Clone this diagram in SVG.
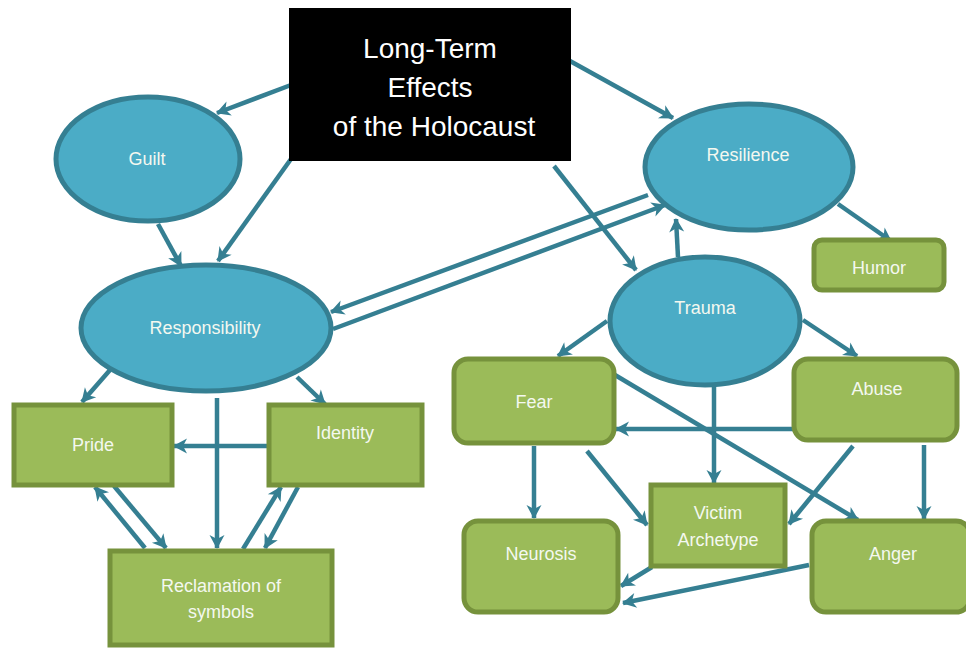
<svg xmlns="http://www.w3.org/2000/svg" width="966" height="648" viewBox="0 0 966 648">
  <style>
    .oval { fill: #4BACC6; stroke: #357F92; stroke-width: 5; }
    .box { fill: #9BBB59; stroke: #76923C; stroke-width: 5; }
    .lbl { font-family: "Liberation Sans", Arial, sans-serif; font-size: 18px; fill: #F4F8F0; text-anchor: middle; dominant-baseline: central; }
    .title { font-family: "Liberation Sans", Arial, sans-serif; font-size: 28px; fill: #FFFFFF; text-anchor: middle; dominant-baseline: central; }
    .edge { stroke: #357F92; stroke-width: 4.5; fill: none; marker-end: url(#head); }
  </style>
  <defs>
    <marker id="head" markerUnits="userSpaceOnUse" viewBox="-14 -8 16 16" refX="0" refY="0" markerWidth="16" markerHeight="16" orient="auto">
      <path d="M1,0 L-13,-7.5 L-9,0 L-13,7.5 Z" fill="#357F92"/>
    </marker>
  </defs>

  <!-- connectors -->
  <g id="connectors">
    <line class="edge" x1="291" y1="85" x2="217" y2="113"/>
    <line class="edge" x1="291" y1="159" x2="218" y2="261"/>
    <line class="edge" x1="158" y1="224" x2="181" y2="266"/>
    <line class="edge" x1="648" y1="195" x2="331" y2="312"/>
    <line class="edge" x1="333" y1="329" x2="665" y2="205"/>
    <line class="edge" x1="570" y1="61" x2="673" y2="118"/>
    <line class="edge" x1="554" y1="166" x2="636" y2="270"/>
    <line class="edge" x1="678" y1="257" x2="676" y2="219"/>
    <line class="edge" x1="838" y1="204" x2="891" y2="241"/>
    <line class="edge" x1="607" y1="321" x2="558" y2="356"/>
    <line class="edge" x1="803" y1="320" x2="857" y2="356"/>
    <line class="edge" x1="714" y1="387" x2="714" y2="483"/>
    <line class="edge" x1="793" y1="429" x2="616" y2="429"/>
    <line class="edge" x1="615" y1="375" x2="858" y2="520"/>
    <line class="edge" x1="534" y1="446" x2="534" y2="518"/>
    <line class="edge" x1="587" y1="451" x2="647" y2="525"/>
    <line class="edge" x1="853" y1="446" x2="789" y2="524"/>
    <line class="edge" x1="924" y1="445" x2="924" y2="519"/>
    <line class="edge" x1="652" y1="567" x2="621" y2="586"/>
    <line class="edge" x1="809" y1="565" x2="623" y2="603"/>
    <line class="edge" x1="110" y1="370" x2="82" y2="402"/>
    <line class="edge" x1="297" y1="377" x2="325" y2="404"/>
    <line class="edge" x1="217" y1="398" x2="217" y2="548"/>
    <line class="edge" x1="269" y1="446" x2="174" y2="446"/>
    <line class="edge" x1="145" y1="548" x2="95" y2="487"/>
    <line class="edge" x1="114" y1="486" x2="166" y2="548"/>
    <line class="edge" x1="243" y1="549" x2="281" y2="487"/>
    <line class="edge" x1="298" y1="487" x2="265" y2="548"/>
  </g>

  <g id="title">
    <rect x="289" y="8" width="282" height="153" fill="#000000"/>
    <text class="title" x="430" y="48">Long-Term</text>
    <text class="title" x="430" y="87">Effects</text>
    <text class="title" x="434" y="126">of the Holocaust</text>
  </g>

  <g id="guilt">
    <ellipse class="oval" cx="148" cy="159" rx="92" ry="62"/>
    <text class="lbl" x="147" y="159">Guilt</text>
  </g>
  <g id="responsibility">
    <ellipse class="oval" cx="206" cy="328" rx="125" ry="63"/>
    <text class="lbl" x="205" y="328">Responsibility</text>
  </g>
  <g id="resilience">
    <ellipse class="oval" cx="749" cy="167" rx="104" ry="63"/>
    <text class="lbl" x="748" y="155">Resilience</text>
  </g>
  <g id="trauma">
    <ellipse class="oval" cx="705" cy="321" rx="95" ry="64"/>
    <text class="lbl" x="705" y="308">Trauma</text>
  </g>
  <g id="humor">
    <rect class="box" x="814" y="240" width="130" height="50" rx="8"/>
    <text class="lbl" x="879" y="268">Humor</text>
  </g>
  <g id="fear">
    <rect class="box" x="454" y="359" width="160" height="84" rx="14"/>
    <text class="lbl" x="534" y="402">Fear</text>
  </g>
  <g id="abuse">
    <rect class="box" x="794" y="359" width="163" height="81" rx="14"/>
    <text class="lbl" x="877" y="389">Abuse</text>
  </g>
  <g id="victim-archetype">
    <rect class="box" x="651" y="485" width="134" height="81"/>
    <text class="lbl" x="718" y="513">Victim</text>
    <text class="lbl" x="718" y="540">Archetype</text>
  </g>
  <g id="neurosis">
    <rect class="box" x="464" y="521" width="154" height="91" rx="14"/>
    <text class="lbl" x="541" y="554">Neurosis</text>
  </g>
  <g id="anger">
    <rect class="box" x="812" y="521" width="158" height="91" rx="14"/>
    <text class="lbl" x="893" y="554">Anger</text>
  </g>
  <g id="pride">
    <rect class="box" x="14" y="405" width="158" height="80"/>
    <text class="lbl" x="93" y="445">Pride</text>
  </g>
  <g id="identity">
    <rect class="box" x="269" y="405" width="153" height="80"/>
    <text class="lbl" x="345" y="433">Identity</text>
  </g>
  <g id="reclamation">
    <rect class="box" x="110" y="551" width="222" height="94"/>
    <text class="lbl" x="221" y="586">Reclamation of</text>
    <text class="lbl" x="221" y="612">symbols</text>
  </g>
</svg>
